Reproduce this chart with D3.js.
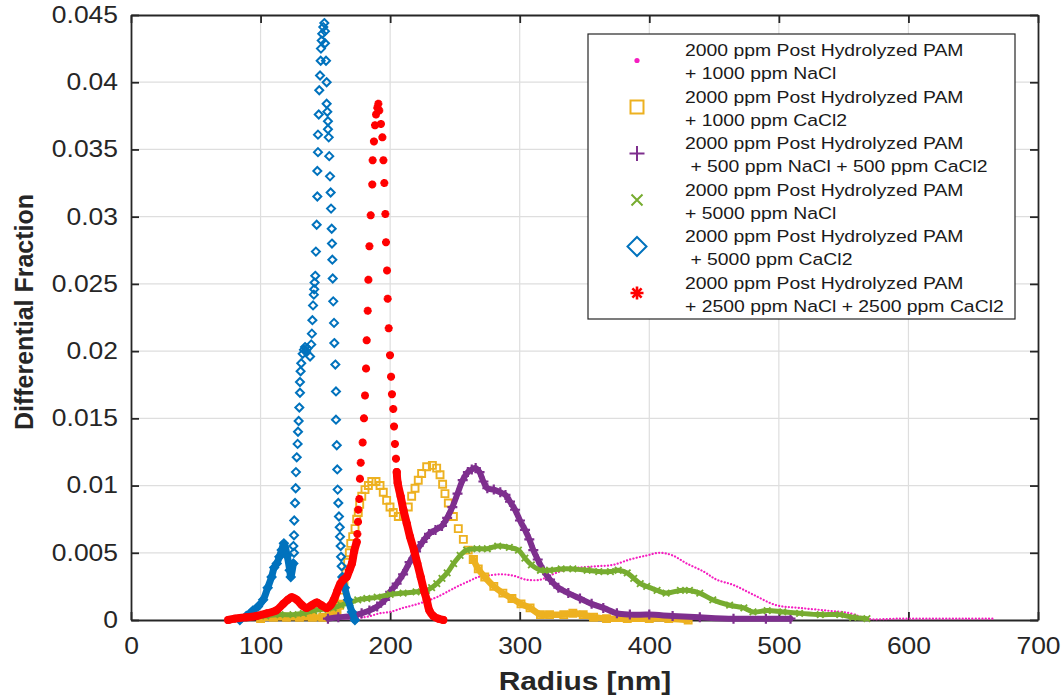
<!DOCTYPE html>
<html lang="en">
<head>
<meta charset="UTF-8">
<title>Differential Fraction vs Radius</title>
<script src="https://d3js.org/d3.v7.min.js"></script>
<style>
  body { margin: 0; background: #fff; }
  svg { display: block; font-family: "Liberation Sans", Arial, sans-serif; }
  .grid line { stroke: #dedede; stroke-width: 1.2px; }
  .axis path, .axis line { stroke: #262626; stroke-width: 1.8px; }
  .axis text { font-size: 23px; fill: #262626; }
  .legend text { font-size: 17px; fill: #1a1a1a; white-space: pre; }
  .label { font-weight: bold; fill: #262626; }
</style>
</head>
<body>
<svg id="svg" width="1063" height="696"></svg>
<script>
// axis ticks
const xTicks = [0, 100, 200, 300, 400, 500, 600, 700];
const yTicks = [0, 0.005, 0.01, 0.015, 0.02, 0.025, 0.03, 0.035, 0.04, 0.045];
const yTickLabels = ["0", "0.005", "0.01", "0.015", "0.02", "0.025", "0.03", "0.035", "0.04", "0.045"];

const legendLabels = [
    ["2000 ppm Post Hydrolyzed PAM", "+ 1000 ppm NaCl"],
    ["2000 ppm Post Hydrolyzed PAM", "+ 1000 ppm CaCl2"],
    ["2000 ppm Post Hydrolyzed PAM", " + 500 ppm NaCl + 500 ppm CaCl2"],
    ["2000 ppm Post Hydrolyzed PAM", "+ 5000 ppm NaCl"],
    ["2000 ppm Post Hydrolyzed PAM", " + 5000 ppm CaCl2"],
    ["2000 ppm Post Hydrolyzed PAM", "+ 2500 ppm NaCl + 2500 ppm CaCl2"]
];

// data: [radius nm, differential fraction]
const nacl1000 = [[165,0.0001],[172,0.0001],[179,0.0002],[185,0.0003],[192,0.0005],[200,0.0006],[210,0.0009],[218,0.0011],[228,0.0014],[236,0.0017],[246,0.0022],[252,0.0025],[261,0.0029],[268,0.0032],[275,0.0033],[285,0.0034],[295,0.0033],[305,0.003],[316,0.003],[323,0.0033],[334,0.0037],[346,0.0039],[359,0.004],[372,0.0041],[385,0.0045],[398,0.0048],[408,0.005],[418,0.0048],[429,0.0042],[442,0.0036],[452,0.003],[465,0.0026],[480,0.0019],[498,0.0011],[516,0.0009],[537,0.0007],[555,0.0005],[568,0.0001],[594,0.0001],[620,0.0001],[645,0.0001],[667,0.0001]];

const cacl1000Low = [[100,0.0001],[110,0.0002],[120,0.0002],[130,0.0002],[140,0.0002],[148,0.0002],[154,0.0004],[159,0.0007],[161,0.0011]];
const cacl1000Peaks = [[162.6,0.0017],[164.4,0.0026],[165.9,0.0035],[167.2,0.0043],[168.5,0.005],[169.6,0.0057],[171.1,0.0062],[172.9,0.0068],[174.2,0.0075],[175.4,0.008],[176.5,0.0086],[178.1,0.0092],[180.6,0.0097],[183.2,0.01],[185.8,0.0103],[189.1,0.0103],[192.2,0.01],[194.7,0.0095],[197.3,0.0089],[199.9,0.0084],[202.4,0.008],[206.3,0.0077],[210.2,0.0077],[214,0.0084],[216.6,0.0092],[219.2,0.0098],[221.7,0.0104],[224.3,0.0109],[228.2,0.0114],[232.6,0.0115],[235.9,0.0113],[238.5,0.0108],[240.5,0.0101],[242.3,0.0094],[244.9,0.0087],[248.8,0.0077],[252.6,0.0068],[256.5,0.006],[260.3,0.0052],[264.2,0.0045]];
const cacl1000Tail = [[264.2,0.0045],[268,0.0038],[273,0.0032],[280,0.0025],[287,0.002],[294,0.0016],[301,0.0012],[308,0.0009],[316,0.0004],[323,0.0004],[334,0.0004],[341,0.0005],[349,0.0004],[357,0.0002],[367,0.0001],[383,0.0001],[400,0.0001],[415,0.0001],[430,0]];

const mix500 = [[152,0.0001],[160,0.0002],[170,0.0003],[178,0.0005],[184,0.0007],[190,0.001],[196,0.0015],[200,0.0021],[205,0.0027],[210,0.0034],[215,0.0043],[220,0.0051],[225,0.0058],[230,0.0064],[235,0.0067],[240,0.007],[244,0.0076],[248,0.0084],[252,0.0094],[256,0.0104],[260,0.011],[263,0.0112],[266,0.0113],[269,0.011],[272,0.0103],[275,0.0098],[280,0.0097],[285,0.0095],[289,0.0093],[292.5,0.0088],[296.4,0.0082],[300.2,0.0074],[304.1,0.0067],[307.4,0.006],[310.5,0.0052],[313.9,0.0045],[318.2,0.0037],[323.4,0.003],[329.8,0.0024],[337.5,0.002],[346.5,0.0016],[355.5,0.0012],[364.5,0.0009],[375,0.0005],[385,0.0004],[400,0.0004],[418,0.0003],[439,0.0002],[465,0.0001],[490,0.0001],[509,0.0001]];

const nacl5000 = [[104,0.0003],[115,0.0004],[125,0.0004],[133,0.0005],[141,0.0007],[148,0.0008],[156,0.0009],[162,0.0011],[169,0.0013],[175,0.0015],[182,0.0016],[190,0.0017],[200,0.0019],[210,0.002],[220,0.0021],[228,0.0022],[232,0.0024],[236,0.0027],[240,0.0031],[244,0.0035],[249,0.0042],[254,0.0048],[259,0.0052],[267,0.0053],[275,0.0053],[283,0.0055],[292,0.0054],[299,0.0052],[304,0.0046],[309,0.0041],[316,0.0037],[323,0.0037],[332,0.0038],[341,0.0038],[352,0.0037],[361,0.0036],[370,0.0036],[376,0.0037],[383,0.0035],[388,0.0031],[393,0.0027],[398,0.0025],[406,0.0022],[413,0.002],[424,0.0022],[431,0.0022],[439,0.002],[449,0.0015],[462,0.0011],[473,0.0009],[480,0.0006],[491,0.0007],[503,0.0006],[516,0.0005],[532,0.0004],[547,0.0004],[557,0.0002],[568,0.0001]];

const cacl5000Low = [[84,0],[89,0.0003],[94,0.0007],[98,0.001],[102,0.0015],[105.5,0.0024],[108.5,0.0032],[110.5,0.0039],[112.5,0.0042],[114.5,0.0047],[116.3,0.0052],[118,0.0057],[120.5,0.0048],[122.5,0.0037],[123.3,0.0032],[125.3,0.0042]];
const cacl5000Spike = [[125.8,0.005],[125.3,0.0055],[125.8,0.0063],[126,0.0074],[126.6,0.0087],[127.1,0.0098],[127.3,0.011],[127.9,0.0121],[128.6,0.0131],[128.9,0.014],[129.4,0.0148],[129.9,0.0158],[130.4,0.0169],[130.4,0.0177],[130.9,0.0185],[131.4,0.0191],[132.5,0.0198],[133.5,0.0201],[134.3,0.0203],[135.1,0.02],[136.1,0.0202],[138.2,0.0196],[139.1,0.0205],[139.6,0.0213],[140,0.0223],[140.5,0.0234],[141.1,0.0242],[141.4,0.0246],[141.7,0.0251],[142.2,0.0256],[142.7,0.0274],[143.3,0.0294],[143.8,0.0315],[143.8,0.0334],[144.3,0.0348],[144.3,0.0361],[144.9,0.0376],[145.3,0.0394],[145.9,0.0405],[146.4,0.0416],[146.6,0.0425],[147.2,0.0431],[147.6,0.0436],[148.4,0.0441],[149.2,0.0444],[149.7,0.0438],[149.7,0.0429],[150.5,0.0416],[151,0.04],[151,0.0384],[151.5,0.0378],[152,0.0371],[152,0.0365],[152.6,0.0359],[153,0.0345],[153.6,0.033],[154.1,0.0318],[154.4,0.0306],[154.9,0.0291],[155.1,0.028],[155.4,0.0268],[155.7,0.0254],[156.1,0.0237],[156.7,0.0221],[156.9,0.0206],[157.7,0.019],[158.2,0.017],[158.2,0.0149],[158.8,0.013],[159.2,0.0112],[159.5,0.0097],[160,0.0087],[160.5,0.0077],[161.1,0.0069],[161.3,0.0062],[161.8,0.0055],[162.1,0.0047],[162.6,0.004]];
const cacl5000Tail = [[163.1,0.0032],[165,0.0024],[167.5,0.0015],[170.5,0.0006],[172.8,0]];

const mix2500Low = [[75,0],[80,0.0001],[89,0.0002],[97,0.0003],[105,0.0005],[112,0.0007],[117.5,0.0012],[121,0.0015],[124,0.0017],[128,0.0015],[132,0.0011],[135.5,0.0009],[139.5,0.0011],[143.5,0.0013],[147,0.0011],[151,0.0009],[154,0.0011],[156.5,0.0015],[159,0.0021],[161.5,0.0027],[164,0.003],[166.5,0.0032],[168.5,0.0037],[170.5,0.0042],[172.2,0.0051],[174.2,0.0058]];
const mix2500Spike = [[174.7,0.0064],[175.2,0.0073],[175.4,0.0082],[176.2,0.009],[176.7,0.0105],[177.3,0.0117],[178.8,0.0132],[179.8,0.015],[180.6,0.0167],[181.4,0.0187],[181.9,0.0208],[182.7,0.023],[183.2,0.0253],[184,0.0278],[185,0.0301],[186.2,0.0324],[186.5,0.0342],[187.5,0.0356],[188.3,0.0368],[189.1,0.0376],[190.1,0.0381],[190.9,0.0384],[191.6,0.0379],[192.9,0.0369],[194,0.0359],[194.8,0.0342],[195.5,0.0325],[196.3,0.0302],[196.8,0.0281],[197.6,0.026],[198.1,0.0239],[198.9,0.0217],[199.9,0.0197],[200.7,0.0181],[201.4,0.0168],[202.4,0.0157],[203,0.0144],[203.7,0.0131],[204.5,0.012]];
const mix2500Tail = [[205.1,0.011],[205.8,0.0102],[208.1,0.0092],[210.2,0.0082],[212.8,0.0072],[215.3,0.0062],[218.4,0.0052],[221,0.0042],[223.6,0.0032],[226.1,0.0022],[228.2,0.0015],[230.3,0.0007],[233.3,0.0003],[237.2,0.0001],[241,0]];

// series in plotting order (later ones on top)
const series = [
    {bands: [nacl1000], points: [], color: "#f51ec0", marker: "dot", dotted: true},
    {bands: [cacl1000Low, cacl1000Tail], points: [cacl1000Peaks], color: "#EDB120", marker: "square", size: 7, sw: 1.9, band: 6.5},
    {bands: [mix500], points: [], color: "#7E2F8E", marker: "plus", size: 10, sw: 2.2, band: 6},
    {bands: [nacl5000], points: [], color: "#77AC30", marker: "cross", size: 6.5, sw: 1.8, band: 5},
    {bands: [cacl5000Low, cacl5000Tail], points: [cacl5000Spike], color: "#0072BD", marker: "diamond", size: 8, sw: 2, band: 7},
    {bands: [mix2500Low, mix2500Tail], points: [mix2500Spike], color: "#FF0000", marker: "star", size: 8, sw: 2.6, band: 8}
];

const legendMarkerSize = {dot: 5, square: 13, plus: 15, cross: 11, diamond: 19, star: 13};

const svg = d3.select("#svg");
svg.append("rect").attr("width", 1063).attr("height", 696).attr("fill", "#fff");

const x = d3.scaleLinear().domain([0, 700]).range([131, 1038]);
const y = d3.scaleLinear().domain([0, 0.045]).range([620, 15]);

// grid
const grid = svg.append("g").attr("class", "grid");
grid.selectAll("line.v").data(xTicks.slice(1, -1)).enter().append("line")
    .attr("x1", d => x(d)).attr("x2", d => x(d)).attr("y1", y(0)).attr("y2", y(0.045));
grid.selectAll("line.h").data(yTicks.slice(1, -1)).enter().append("line")
    .attr("x1", x(0)).attr("x2", x(700)).attr("y1", d => y(d)).attr("y2", d => y(d));

// axes (ticks point inwards, box on)
const gx = svg.append("g").attr("class", "axis").attr("transform", `translate(0,${y(0)})`)
    .call(d3.axisBottom(x).tickValues(xTicks).tickSizeInner(-8).tickSizeOuter(0).tickPadding(18));
gx.selectAll("text").attr("transform", "scale(1.15,1)");

const gy = svg.append("g").attr("class", "axis").attr("transform", `translate(${x(0)},0)`)
    .call(d3.axisLeft(y).tickValues(yTicks).tickFormat((d, i) => yTickLabels[i])
        .tickSizeInner(-8).tickSizeOuter(0).tickPadding(11.3));
gy.selectAll("text").attr("transform", "scale(1.15,1)");

svg.append("g").attr("class", "axis").attr("transform", `translate(0,${y(0.045)})`)
    .call(d3.axisTop(x).tickValues(xTicks).tickFormat("").tickSizeInner(-8).tickSizeOuter(0));
svg.append("g").attr("class", "axis").attr("transform", `translate(${x(700)},0)`)
    .call(d3.axisRight(y).tickValues(yTicks).tickFormat("").tickSizeInner(-8).tickSizeOuter(0));

// axis titles
svg.append("text").attr("class", "label")
    .attr("transform", "translate(585,690) scale(1.15,1)")
    .attr("text-anchor", "middle").style("font-size", "26px")
    .text("Radius [nm]");
svg.append("text").attr("class", "label")
    .attr("transform", "translate(33,312) rotate(-90)")
    .attr("text-anchor", "middle").style("font-size", "25px")
    .text("Differential Fraction");

function markerPath(type, s) {
    const h = s / 2;
    const k = h * 0.7071;
    switch (type) {
        case "square": return `M${-h},${-h}H${h}V${h}H${-h}Z`;
        case "plus": return `M${-h},0H${h}M0,${-h}V${h}`;
        case "cross": return `M${-h},${-h}L${h},${h}M${-h},${h}L${h},${-h}`;
        case "diamond": return `M0,${-h}L${h},0L0,${h}L${-h},0Z`;
        case "star": return `M${-h},0H${h}M0,${-h}V${h}M${-k},${-k}L${k},${k}M${-k},${k}L${k},${-k}`;
    }
}

const line = d3.line().x(d => x(d[0])).y(d => y(d[1])).curve(d3.curveCatmullRom);

// data
series.forEach(s => {
    const g = svg.append("g");
    s.bands.forEach(b => {
        const p = g.append("path").attr("d", line(b)).attr("fill", "none")
            .attr("stroke", s.color).attr("stroke-linecap", "round").attr("stroke-linejoin", "round");
        if (s.dotted) {
            p.attr("stroke-width", 2.2).attr("stroke-dasharray", "0.1 3.2");
        } else {
            p.attr("stroke-width", s.band);
        }
    });
    if (s.dotted) return;
    const pts = s.bands.concat(s.points).flat();
    g.selectAll("path.m").data(pts).enter().append("path")
        .attr("class", "m")
        .attr("transform", d => `translate(${x(d[0])},${y(d[1])})`)
        .attr("d", markerPath(s.marker, s.size))
        .attr("fill", "none").attr("stroke", s.color).attr("stroke-width", s.sw);
});

// legend
const legend = svg.append("g").attr("class", "legend");
legend.append("rect").attr("x", 588).attr("y", 34).attr("width", 427).attr("height", 285)
    .attr("fill", "#fff").attr("stroke", "#262626").attr("stroke-width", 1.2);
series.forEach((s, i) => {
    const base = 56 + i * 46.5;
    const my = base + 4.5;
    if (s.marker === "dot") {
        legend.append("circle").attr("cx", 637).attr("cy", my).attr("r", 2.6).attr("fill", s.color);
    } else {
        legend.append("path").attr("transform", `translate(637,${my})`)
            .attr("d", markerPath(s.marker, legendMarkerSize[s.marker]))
            .attr("fill", "none").attr("stroke", s.color)
            .attr("stroke-width", s.marker === "star" ? 2.6 : 2);
    }
    legendLabels[i].forEach((t, j) => {
        legend.append("text")
            .attr("transform", `translate(685,${base + j * 23}) scale(1.14,1)`)
            .text(t);
    });
});
</script>
</body>
</html>
